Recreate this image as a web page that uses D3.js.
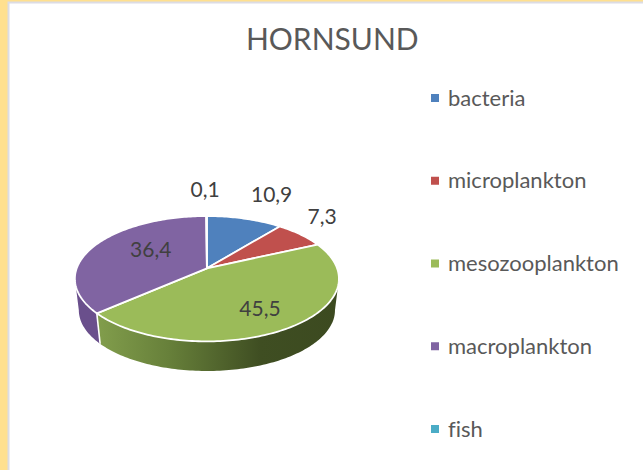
<!DOCTYPE html>
<html><head><meta charset="utf-8">
<script src="https://cdn.jsdelivr.net/npm/d3@7"></script>
<style>html,body{margin:0;padding:0;background:#FFE08F;overflow:hidden}svg{display:block}text{font-family:Lato,"Open Sans",sans-serif;font-variant-ligatures:none}</style>
</head><body><svg id="c" width="643" height="470"></svg>
<script>
const chartTitle = "HORNSUND";
const categories = ["bacteria","microplankton","mesozooplankton","macroplankton","fish"];
const values = [10.9,7.3,45.5,36.4,0.1];
const valueLabels = ["10,9","7,3","45,5","36,4","0,1"];
const colors = ["#4F81BD","#C0504D","#9BBB59","#8064A2","#4BACC6"];
const labelNudges = [[27,-25],[21.7,-18.5],[-29,-20],[55,3.4],[-1.5,-28]];

const svg = d3.select("#c");
svg.append("rect").attr("x",8.5).attr("y",2.5).attr("width",640).attr("height",470).attr("fill","#fff").attr("stroke","#dcdce4").attr("stroke-width",2);

const cx=206.9, cy=268.3, A=130.2, B=60.95, k=0.166, depth=31.8, taper=0.97;
const project=(phi,r=1,drop=0,s=1)=>{
  const u=Math.sin(phi)*r, v=Math.cos(phi)*r, d=1+k*v;
  return [cx+s*A*u/d, cy-s*B*v/d+drop];
};
const lineGen=d3.line();
const arcs=d3.pie().sort(null).startAngle(0).endAngle(2*Math.PI).padAngle(0)(values);
const rim=(a0,a1,drop=0,s=1)=>{
  const n=Math.max(2,Math.ceil(Math.abs(a1-a0)/0.02));
  return d3.range(n+1).map(i=>project(a0+(a1-a0)*i/n,1,drop,s));
};
const defs=svg.append("defs");
const sideGrad=defs.append("linearGradient").attr("id","sideG").attr("gradientUnits","userSpaceOnUse")
  .attr("x1",cx-A*0.85).attr("x2",cx+A).attr("y1",0).attr("y2",0);
[[0,"#829E4C"],[0.3,"#67803A"],[0.68,"#3F4E22"],[1,"#3C4A20"]].forEach(([o,c])=>sideGrad.append("stop").attr("offset",o).attr("stop-color",c));

const g=svg.append("g");
const silhouette=Math.acos(-k);
const sideRange=[silhouette, 2*Math.PI-silhouette];
// side walls, drawn only for the visible front part of the rim
arcs.forEach((d,i)=>{
  const a0=Math.max(d.startAngle,sideRange[0]), a1=Math.min(d.endAngle,sideRange[1]);
  if(a1<=a0) return;
  const top=rim(a0,a1), bottom=rim(a1,a0,depth,taper);
  g.append("path").attr("d",lineGen(top.concat(bottom))+"Z")
   .attr("fill",i===2?"url(#sideG)":"#6A4F8C");
});
// white divider on the side between green and purple
const cut=arcs[2].endAngle;
g.append("path").attr("d",lineGen([project(cut),project(cut,1,depth,taper)])).attr("stroke","#fff").attr("stroke-width",1.6);
// top faces
arcs.forEach((d,i)=>{
  g.append("path").attr("d",lineGen([[cx,cy],...rim(d.startAngle,d.endAngle)])+"Z")
   .attr("fill",colors[i]).attr("stroke","#fff").attr("stroke-width",1.8).attr("stroke-linejoin","round");
});
// value labels
arcs.forEach((d,i)=>{
  const p=project((d.startAngle+d.endAngle)/2);
  svg.append("text").attr("x",p[0]+labelNudges[i][0]).attr("y",p[1]+labelNudges[i][1])
   .attr("text-anchor","middle").attr("dominant-baseline","central")
   .attr("font-size",21).attr("fill","#404040").text(valueLabels[i]);
});
// title
svg.append("text").attr("x",332.3).attr("y",38).attr("text-anchor","middle").attr("dominant-baseline","central")
  .attr("font-size",30).attr("fill","#595959").text(chartTitle);
// legend
const ly=d3.scalePoint().domain(categories).range([98,429]);
const leg=svg.append("g").selectAll("g").data(categories).join("g");
leg.append("rect").attr("x",431).attr("y",d=>ly(d)-4).attr("width",8).attr("height",8).attr("fill",(d,i)=>colors[i]);
leg.append("text").attr("x",448).attr("y",d=>ly(d)-1).attr("dominant-baseline","central")
  .attr("font-size",22).attr("fill","#595959").text(d=>d);
</script></body></html>
